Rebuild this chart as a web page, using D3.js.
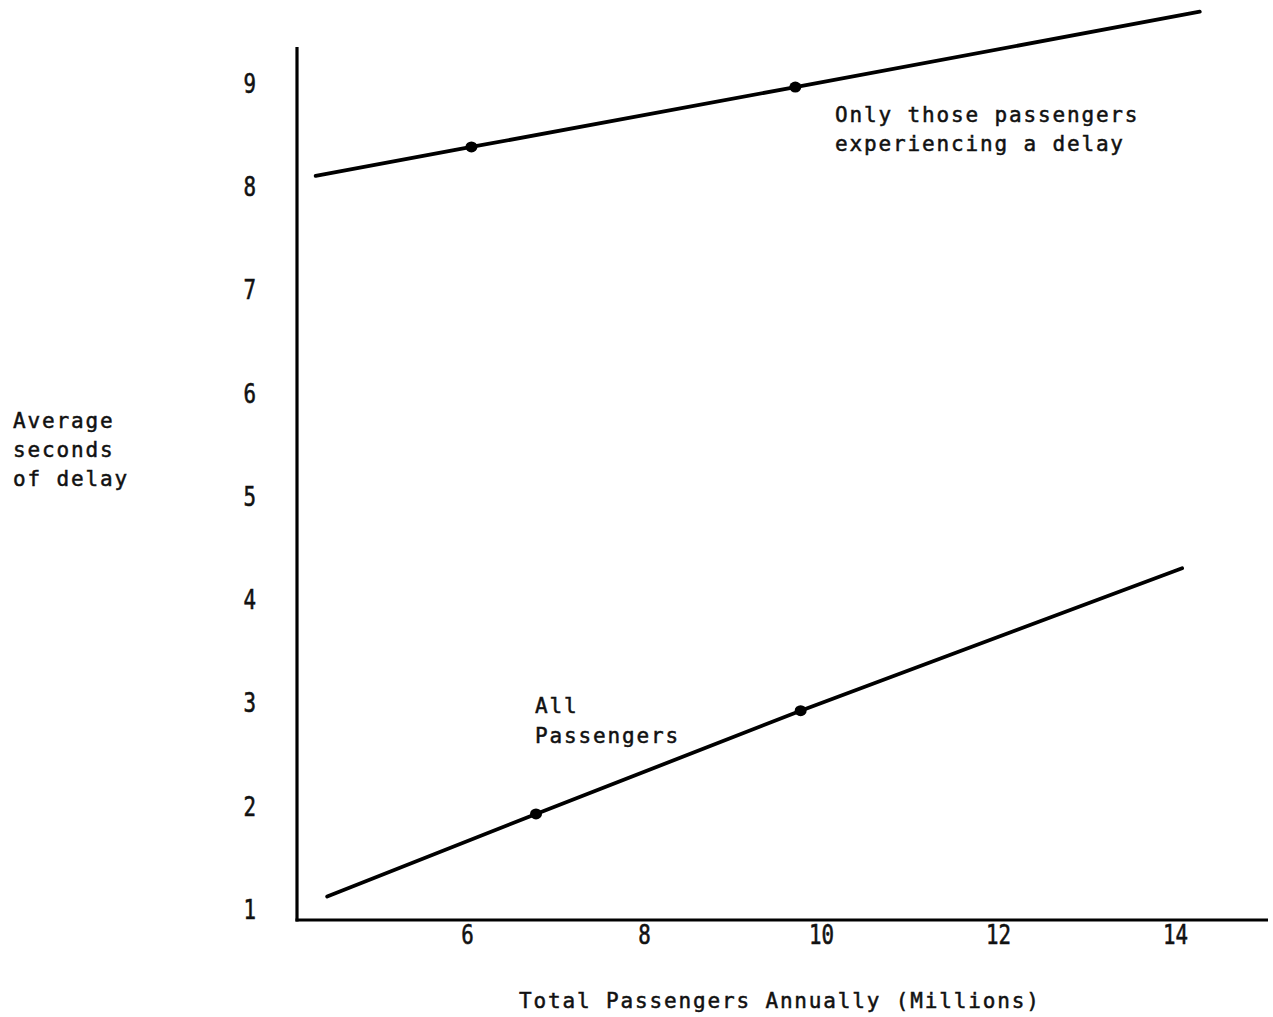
<!DOCTYPE html>
<html>
<head>
<meta charset="utf-8">
<script src="https://cdn.jsdelivr.net/npm/d3@7"></script>
<style>
  html, body { margin: 0; padding: 0; background: #fff; }
  svg { display: block; }
  text { font-family: "DejaVu Sans Mono", monospace; fill: #111; }
</style>
</head>
<body>
<script>
// ---- data ----
const xTicks = [6, 8, 10, 12, 14];
const yTicks = [1, 2, 3, 4, 5, 6, 7, 8, 9];

// "Only those passengers experiencing a delay"
const delayedX = [4.29, 6.05, 9.71, 14.28];
const delayedY = [8.11, 8.39, 8.97, 9.70];
const delayedMarked = [false, true, true, false];

// "All Passengers"
const allX = [4.42, 6.78, 9.77, 14.08];
const allY = [1.13, 1.93, 2.93, 4.31];
const allMarked = [false, true, true, false];

const yTitle = ["Average", "seconds", "of delay"];
const xTitle = "Total Passengers Annually (Millions)";
const delayedLabel = ["Only those passengers", "experiencing a delay"];
const allLabel = ["All", "Passengers"];

// ---- layout ----
const W = 1273, H = 1017;
const axisX = 297, axisY = 920;

const x = d3.scaleLinear().domain([4, 14]).range([290, 1175]);
const y = d3.scaleLinear().domain([1, 9]).range([910, 84]);

const svg = d3.select("body").append("svg")
  .attr("width", W).attr("height", H);
svg.append("rect").attr("width", W).attr("height", H).attr("fill", "#fff");

// axes lines
svg.append("line").attr("x1", axisX).attr("x2", axisX).attr("y1", 47).attr("y2", axisY + 1.5)
  .attr("stroke", "#000").attr("stroke-width", 3.2);
svg.append("line").attr("x1", axisX - 1.5).attr("x2", 1268).attr("y1", axisY).attr("y2", axisY)
  .attr("stroke", "#000").attr("stroke-width", 3.2);

function digitStyle(sel) {
  sel.style("font-family", "'DejaVu Sans Mono', monospace")
    .style("font-size", "26px")
    .attr("fill", "#111").attr("stroke", "#111").attr("stroke-width", 0.6)
    .attr("textLength", d => String(d).length * 12.5)
    .attr("lengthAdjust", "spacingAndGlyphs");
}

// tick labels via d3 axes
const yAxis = d3.axisLeft(y).tickValues(yTicks).tickSize(0).tickPadding(41).tickFormat(d3.format("d"));
const gy = svg.append("g").attr("transform", `translate(${axisX},0)`).call(yAxis);
gy.select(".domain").remove();
gy.selectAll("text").call(digitStyle);

const xAxis = d3.axisBottom(x).tickValues(xTicks).tickSize(0).tickPadding(6).tickFormat(d3.format("d"));
const gx = svg.append("g").attr("transform", `translate(0,${axisY})`).call(xAxis);
gx.select(".domain").remove();
gx.selectAll("text").call(digitStyle);

// lines
const line = d3.line().x(d => x(d[0])).y(d => y(d[1]));
function drawSeries(xs, ys, marked) {
  const pts = xs.map((v, i) => [v, ys[i], marked[i]]);
  svg.append("path").datum(pts).attr("d", line)
    .attr("fill", "none").attr("stroke", "#000").attr("stroke-width", 3.8)
    .attr("stroke-linecap", "round");
  svg.selectAll(null).data(pts.filter(p => p[2])).enter().append("ellipse")
    .attr("cx", d => x(d[0])).attr("cy", d => y(d[1]))
    .attr("rx", 6).attr("ry", 5.5).attr("fill", "#000");
}
drawSeries(delayedX, delayedY, delayedMarked);
drawSeries(allX, allY, allMarked);

// text
const tStyle = sel => sel.style("font-size", "21px").style("letter-spacing", "1.85px")
  .attr("stroke", "#111").attr("stroke-width", 0.5);
const yt = svg.append("text").attr("x", 13).attr("y", 428).call(tStyle);
yTitle.forEach((s, i) => yt.append("tspan").attr("x", 13).attr("y", 428 + i * 29).text(s));

svg.append("text").attr("x", 519).attr("y", 1008).call(tStyle).text(xTitle);

const dl = svg.append("text").call(tStyle);
delayedLabel.forEach((s, i) => dl.append("tspan").attr("x", 835).attr("y", 122 + i * 29).text(s));

const al = svg.append("text").call(tStyle);
allLabel.forEach((s, i) => al.append("tspan").attr("x", 535).attr("y", 713 + i * 30).text(s));
</script>
</body>
</html>
